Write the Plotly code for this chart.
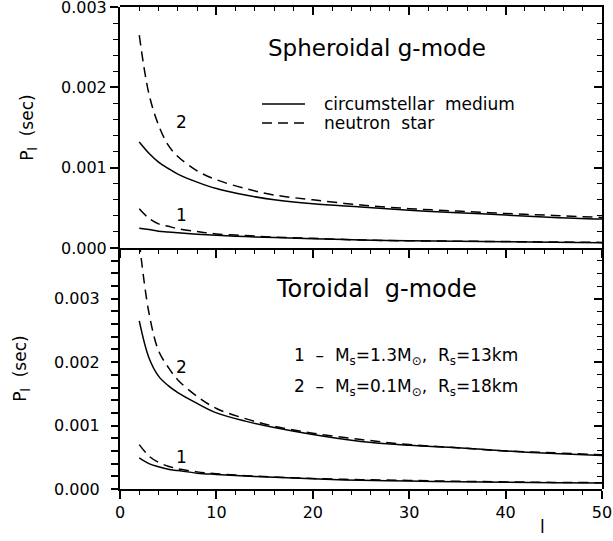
import plotly.graph_objects as go

# multipole order l
l = [2, 3, 4, 5, 6, 8, 10, 13, 16, 20, 25, 30, 35, 40, 45, 50]

# spheroidal g-mode periods (sec)
sph_cm_1 = [0.000245, 0.00023, 0.00021, 0.0002, 0.00019, 0.000172, 0.000158, 0.000143,
            0.00013, 0.000115, 0.0001, 0.00009, 0.000083, 0.000077, 0.000071, 0.000066]
sph_ns_1 = [0.00049, 0.00037, 0.0003, 0.00027, 0.00024, 0.000205, 0.000175, 0.000155,
            0.000135, 0.00012, 0.0001, 0.00009, 0.000085, 0.00008, 0.000075, 0.00007]
sph_cm_2 = [0.00132, 0.00118, 0.00107, 0.00099, 0.00092, 0.00082, 0.00074, 0.00066,
            0.0006, 0.00055, 0.00051, 0.00047, 0.00044, 0.00041, 0.00038, 0.00036]
sph_ns_2 = [0.00265, 0.00192, 0.00153, 0.00128, 0.00114, 0.00096, 0.00085, 0.00074,
            0.00066, 0.0006, 0.000535, 0.00049, 0.00046, 0.00043, 0.000405, 0.00038]

# toroidal g-mode periods (sec)
tor_cm_1 = [0.00049, 0.0004, 0.00035, 0.00031, 0.00029, 0.00025, 0.00023, 0.000205,
            0.000185, 0.00016, 0.000136, 0.000125, 0.000115, 0.000106, 0.0001, 0.000095]
tor_ns_1 = [0.0007, 0.00052, 0.00042, 0.00036, 0.00032, 0.00027, 0.00024, 0.00021,
            0.00019, 0.000165, 0.000147, 0.000135, 0.000122, 0.000112, 0.000104, 0.0001]
tor_cm_2 = [0.00265, 0.00207, 0.00178, 0.00163, 0.00152, 0.00135, 0.0012, 0.00107,
            0.00097, 0.00086, 0.00075, 0.00069, 0.00065, 0.0006, 0.00056, 0.00053]
tor_ns_2 = [0.0039, 0.00278, 0.00218, 0.00192, 0.00172, 0.00146, 0.00127, 0.00111,
            0.00099, 0.00088, 0.00078, 0.0007, 0.00065, 0.0006, 0.00057, 0.00054]

y_ticks = [0, 0.001, 0.002, 0.003]
# bottom-left axis: every 0.0002 gets a tick, only the 0.001 steps get a label
y2_ticks = [i * 0.0002 for i in range(20)]
y2_text = ["%.3f\u2002" % v if i % 5 == 0 else "" for i, v in enumerate(y2_ticks)]

FONT = "DejaVu Sans"
solid = dict(color="black", width=1.5)
dashed = dict(color="black", width=1.5, dash="10px,6px")

fig = go.Figure()
# top panel
for ys, ln in [(sph_cm_2, solid), (sph_ns_2, dashed), (sph_cm_1, solid), (sph_ns_1, dashed)]:
    fig.add_trace(go.Scatter(x=l, y=ys, mode="lines", line=ln, line_shape="spline",
                             showlegend=False, xaxis="x", yaxis="y"))
# bottom panel
for ys, ln in [(tor_cm_2, solid), (tor_ns_2, dashed), (tor_cm_1, solid), (tor_ns_1, dashed)]:
    fig.add_trace(go.Scatter(x=l, y=ys, mode="lines", line=ln, line_shape="spline",
                             showlegend=False, xaxis="x2", yaxis="y2"))

# empty traces so the frame axes (top / right, inward ticks) get drawn
for xa, ya in [("x3", "y3"), ("x4", "y4")]:
    fig.add_trace(go.Scatter(x=[], y=[], mode="lines", showlegend=False, hoverinfo="skip",
                             xaxis=xa, yaxis=ya))

tickfont = dict(family=FONT, size=16, color="black")
common = dict(showgrid=False, zeroline=False, showline=True, linecolor="black", linewidth=2,
              tickcolor="black", tickwidth=1.5, tickfont=tickfont, automargin=False,
              ticklabeloverflow="allow")

xminor = dict(dtick=2, ticklen=4, tickcolor="black", tickwidth=1.2)
yminor = dict(dtick=0.0002, ticklen=5, tickcolor="black", tickwidth=1.2)
ytitle = dict(text="P<sub>l</sub>  (sec)", font=dict(family=FONT, size=17), standoff=23)

TOP = [0.5, 1]
BOT = [0, 0.5]

fig.update_layout(
    width=613, height=541,
    margin=dict(l=120, r=11, t=7, b=52),
    paper_bgcolor="white", plot_bgcolor="rgba(0,0,0,0)",
    font=dict(family=FONT, size=16, color="black"),
    showlegend=False,
    # top panel
    xaxis=dict(domain=[0, 1], anchor="y", range=[0, 50], dtick=10, ticks="outside", ticklen=8,
               showticklabels=False, minor=dict(ticks="outside", **xminor), **common),
    yaxis=dict(domain=TOP, anchor="x", range=[0, 0.003001], tickvals=y_ticks,
               tickformat=".3f", ticksuffix="\u2002",
               ticks="outside", ticklen=8, minor=dict(ticks="outside", **yminor),
               title=ytitle, **common),
    xaxis3=dict(domain=[0, 1], anchor="y3", side="top", range=[0, 50], dtick=10,
                ticks="inside", ticklen=8, showticklabels=False,
                minor=dict(ticks="inside", **xminor), **common),
    yaxis3=dict(domain=TOP, anchor="x3", side="right", range=[0, 0.003001], dtick=0.001,
                ticks="inside", ticklen=8, showticklabels=False,
                minor=dict(ticks="inside", **yminor), **common),
    # bottom panel
    xaxis2=dict(domain=[0, 1], anchor="y2", range=[0, 50], dtick=10, ticks="outside", ticklen=8,
                minor=dict(ticks="outside", **xminor), **common),
    yaxis2=dict(domain=BOT, anchor="x2", range=[0, 0.0038], tickmode="array",
                tickvals=y2_ticks, ticktext=y2_text, ticks="outside", ticklen=7,
                title=ytitle, **common),
    xaxis4=dict(domain=[0, 1], anchor="y4", side="top", range=[0, 50], dtick=10,
                ticks="", showticklabels=False, showline=False, showgrid=False, zeroline=False),
    yaxis4=dict(domain=BOT, anchor="x4", side="right", range=[0, 0.0038], dtick=0.001,
                ticks="inside", ticklen=8, showticklabels=False,
                minor=dict(ticks="inside", **yminor), **common),
)

# legend key drawn by hand (paper coords of the plot area)
key_rows = [("circumstellar  medium", "solid", 0.7988), ("neutron  star", "10px,6px", 0.7593)]
for text, dash, yk in key_rows:
    fig.add_shape(type="line", xref="paper", yref="paper", x0=0.2946, x1=0.3838, y0=yk, y1=yk,
                  line=dict(color="black", width=1.5, dash=dash))
    fig.add_annotation(x=0.419, y=yk, xref="paper", yref="paper", xanchor="left",
                       yanchor="middle", text=text, showarrow=False,
                       font=dict(family=FONT, size=17, color="black"))

ann_font = dict(family=FONT, size=17, color="black")
annotations = [
    dict(x=26.7, y=0.00249, xref="x", yref="y", text="Spheroidal g-mode",
         font=dict(family=FONT, size=23, color="black"), showarrow=False),
    dict(x=26.6, y=0.00316, xref="x2", yref="y2", text="Toroidal  g-mode",
         font=dict(family=FONT, size=24, color="black"), showarrow=False),
    dict(x=6.4, y=0.00157, xref="x", yref="y", text="2", font=ann_font, showarrow=False),
    dict(x=6.4, y=0.00041, xref="x", yref="y", text="1", font=ann_font, showarrow=False),
    dict(x=6.4, y=0.00192, xref="x2", yref="y2", text="2", font=ann_font, showarrow=False),
    dict(x=6.4, y=0.00051, xref="x2", yref="y2", text="1", font=ann_font, showarrow=False),
    dict(x=29.7, y=0.00209, xref="x2", yref="y2",
         text="1  –  M<sub>s</sub>=1.3M<sub>⊙</sub>,  R<sub>s</sub>=13km", font=ann_font, showarrow=False),
    dict(x=29.7, y=0.0016, xref="x2", yref="y2",
         text="2  –  M<sub>s</sub>=0.1M<sub>⊙</sub>,  R<sub>s</sub>=18km", font=ann_font, showarrow=False),
    dict(x=43.8, y=0, xref="x2", yref="paper", yanchor="middle", yshift=-38, text="l",
         font=ann_font, showarrow=False),
]
for a in annotations:
    fig.add_annotation(**a)

# drop the default 8px page margin so the figure sits at the window origin
fig.write_html("out.html", config={"displayModeBar": False},
               post_script="document.body.style.margin = '0';")
